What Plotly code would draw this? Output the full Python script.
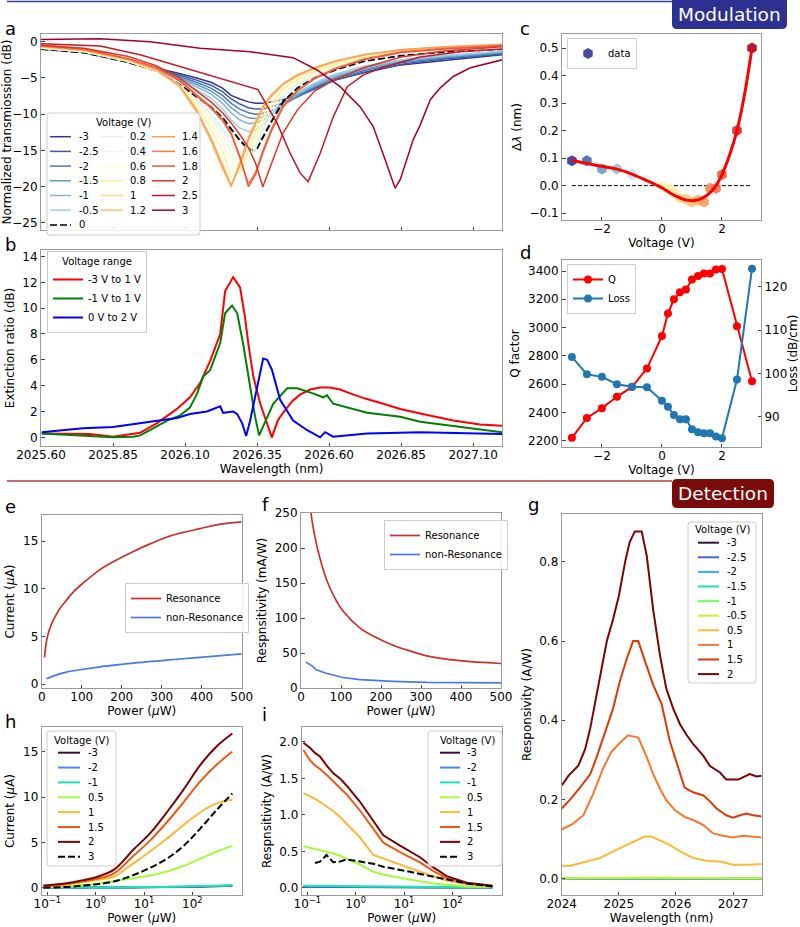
import plotly.graph_objects as go

W, H = 800, 927
FONT = "DejaVu Sans"


def X(p):
    return p / W


def Y(p):
    return 1 - p / H


# ======================= DATA =======================
# ---- (a) normalized transmission (dB) ----
a_voltages = ["-3", "-2.5", "-2", "-1.5", "-1", "-0.5", "0", "0.2", "0.4", "0.6",
              "0.8", "1", "1.2", "1.4", "1.6", "1.8", "2", "2.5", "3"]
a_colors = ["#313695", "#3c5aa8", "#4a7bb7", "#649dc8", "#80b7d6", "#9fcfe4", "black",
            "#dbf0f6", "#eef9dc", "#ffffbf", "#fef0a6", "#fedb8b", "#fdbf71", "#fba05b",
            "#f67c4a", "#ea5a3a", "#da362a", "#c11a27", "#a50026"]
a_wl = [2025.60, 2025.75, 2025.90, 2026.00, 2026.08, 2026.14, 2026.19, 2026.23, 2026.26,
        2026.29, 2026.32, 2026.345, 2026.37, 2026.40, 2026.44, 2026.49, 2026.55, 2026.62,
        2026.72, 2026.85, 2027.00, 2027.20]
a_m3 = [-1.0, -1.5, -2.7, -3.6, -4.4, -5.0, -5.6, -6.4, -7.4, -7.9, -8.3, -8.5, -8.5, -8.3, -8.0, -7.3, -6.4, -5.3, -4.3, -3.2, -2.6, -1.8]
a_m25 = [-1.0, -1.5, -2.8, -3.7, -4.6, -5.3, -6.0, -6.9, -7.9, -8.6, -9.1, -9.3, -9.3, -9.0, -8.5, -7.6, -6.5, -5.3, -4.2, -3.1, -2.4, -1.7]
a_m2 = [-1.0, -1.5, -2.8, -3.8, -4.8, -5.6, -6.4, -7.4, -8.5, -9.3, -9.8, -10.0, -9.9, -9.5, -8.7, -7.6, -6.3, -5.1, -4.0, -2.9, -2.2, -1.6]
a_m15 = [-1.0, -1.5, -2.8, -3.9, -5.0, -5.9, -6.8, -7.9, -9.1, -10.0, -10.5, -10.6, -10.4, -9.8, -8.7, -7.4, -6.1, -4.9, -3.8, -2.7, -2.1, -1.5]
a_m1 = [-1.0, -1.5, -2.8, -3.9, -5.1, -6.2, -7.2, -8.5, -9.8, -10.8, -11.3, -11.2, -10.8, -10.0, -8.6, -7.2, -5.9, -4.7, -3.6, -2.6, -2.0, -1.4]
a_m05 = [-1.0, -1.5, -2.8, -4.0, -5.3, -6.6, -7.8, -9.3, -10.8, -11.9, -12.4, -12.2, -11.4, -10.2, -8.5, -7.0, -5.7, -4.5, -3.4, -2.5, -1.9, -1.3]
a_0 = [-1.0, -1.5, -2.8, -4.0, -5.9, -7.6, -9.0, -10.5, -12.0, -13.6, -14.8, -15.1, -13.2, -11.0, -8.3, -6.4, -5.0, -3.9, -2.7, -1.9, -1.4, -1.0]
a_02 = [-0.9, -1.4, -2.7, -4.0, -6.0, -8.0, -10.0, -12.0, -14.1, -16.0, -16.5, -14.8, -12.2, -9.9, -7.6, -5.9, -4.7, -3.6, -2.5, -1.7, -1.2, -0.9]
a_04 = [-0.9, -1.4, -2.7, -4.0, -6.0, -8.3, -10.6, -12.8, -15.1, -17.4, -16.6, -14.3, -11.5, -9.3, -7.1, -5.6, -4.5, -3.4, -2.3, -1.5, -1.1, -0.8]
a_06 = [-0.8, -1.3, -2.6, -4.0, -6.0, -8.6, -11.3, -13.8, -16.4, -18.3, -16.0, -13.4, -10.8, -8.8, -6.8, -5.4, -4.3, -3.2, -2.2, -1.4, -1.0, -0.7]
a_08 = [-0.8, -1.3, -2.6, -4.0, -6.0, -8.9, -12.0, -15.0, -18.6, -18.0, -15.0, -12.6, -10.2, -8.4, -6.5, -5.2, -4.1, -3.1, -2.1, -1.3, -0.9, -0.6]
a_10 = [-0.7, -1.2, -2.5, -3.9, -6.1, -9.4, -13.2, -16.8, -19.8, -17.2, -13.8, -11.5, -9.3, -7.6, -6.0, -4.8, -3.8, -2.8, -1.9, -1.2, -0.8, -0.5]
a_12 = [-0.7, -1.2, -2.5, -3.9, -6.2, -9.7, -13.7, -17.5, -20.0, -16.6, -13.2, -11.0, -8.9, -7.3, -5.8, -4.6, -3.6, -2.7, -1.8, -1.1, -0.7, -0.4]
a_14 = [-0.6, -1.1, -2.4, -3.8, -6.0, -9.4, -13.4, -17.1, -19.9, -17.0, -13.5, -11.2, -9.0, -7.4, -5.8, -4.6, -3.6, -2.7, -1.8, -1.1, -0.7, -0.4]
a_16 = [-0.6, -1.1, -2.4, -3.6, -5.4, -7.5, -9.2, -10.9, -12.8, -16.0, -19.6, -18.0, -15.0, -12.0, -8.8, -6.7, -5.0, -3.7, -2.4, -1.4, -0.9, -0.5]
a_18 = [-0.5, -1.0, -2.3, -3.5, -5.3, -7.3, -9.0, -10.7, -12.6, -15.8, -20.0, -18.3, -15.3, -12.3, -9.0, -6.8, -5.1, -3.8, -2.5, -1.5, -1.0, -0.6]
a_20 = [-0.5, -0.9, -2.0, -3.3, -5.0, -6.8, -8.3, -9.8, -11.2, -12.8, -14.6, -16.8, -20.0, -16.8, -12.6, -9.4, -6.8, -5.2, -3.6, -2.1, -1.3, -0.7]
a_wl_25 = [2025.600, 2025.805, 2025.944, 2026.107, 2026.222, 2026.353, 2026.419, 2026.465, 2026.499,
           2026.527, 2026.569, 2026.614, 2026.663, 2026.718, 2026.788, 2026.916, 2027.055, 2027.201]
a_25 = [-0.3, -0.6, -1.8, -3.7, -5.0, -6.6, -11.2, -15.4, -18.1, -19.3, -15.4, -10.4, -6.2, -4.6, -3.5, -2.1, -1.4, -1.0]
a_wl_3 = [2025.600, 2025.805, 2025.978, 2026.152, 2026.326, 2026.475, 2026.558, 2026.638, 2026.708, 2026.753,
          2026.801, 2026.829, 2026.847, 2026.892, 2026.916, 2026.951, 2026.985, 2027.031, 2027.090, 2027.201]
a_3 = [0.3, 0.4, 0.0, -0.9, -1.4, -2.2, -3.9, -6.2, -9.0, -11.7, -17.0, -20.2, -19.0, -13.5, -11.5, -8.0, -6.4, -4.8, -3.6, -2.5]
a_wl_ticks = [2025.60, 2025.85, 2026.10, 2026.35, 2026.60, 2026.85, 2027.10]

# ---- (b) extinction ratio (dB) ----
b_names = ["-3 V to 1 V", "-1 V to 1 V", "0 V to 2 V"]
b_colors = ["#ff0000", "#008000", "#0000ff"]
b_wl_r = [2025.602, 2025.690, 2025.770, 2025.850, 2025.902, 2025.944, 2026.003, 2026.036, 2026.072, 2026.117,
          2026.152, 2026.187, 2026.222, 2026.239, 2026.267, 2026.291, 2026.308, 2026.320, 2026.337, 2026.361,
          2026.384, 2026.401, 2026.422, 2026.440, 2026.472, 2026.499, 2026.534, 2026.569, 2026.603, 2026.638,
          2026.673, 2026.725, 2026.788, 2026.847, 2026.916, 2027.031, 2027.124, 2027.201]
b_r = [0.3, 0.3, 0.25, 0.05, 0.2, 0.35, 1.1, 1.6, 2.2, 3.1, 4.2, 5.9, 8.0, 11.3, 12.4, 11.6, 9.3, 7.2, 4.7, 2.6,
       1.1, 0.0, 1.3, 1.9, 2.8, 3.3, 3.7, 3.85, 3.85, 3.7, 3.4, 3.0, 2.6, 2.2, 1.85, 1.3, 1.0, 0.9]
b_wl_g = [2025.603, 2025.746, 2025.850, 2025.919, 2025.944, 2025.978, 2026.038, 2026.083, 2026.117, 2026.142,
          2026.163, 2026.187, 2026.222, 2026.239, 2026.263, 2026.281, 2026.301, 2026.326, 2026.343, 2026.357,
          2026.385, 2026.406, 2026.454, 2026.489, 2026.544, 2026.579, 2026.593, 2026.614, 2026.732, 2026.847,
          2026.916, 2027.031, 2027.201]
b_g = [0.3, 0.15, 0.0, 0.05, 0.15, 0.55, 1.3, 1.7, 2.3, 3.4, 4.7, 5.2, 7.3, 9.6, 10.2, 9.6, 7.3, 3.9, 1.6, 0.15,
       1.6, 2.6, 3.8, 3.8, 3.4, 3.1, 3.25, 2.6, 1.9, 1.6, 1.2, 0.9, 0.4]
b_wl_b = [2025.603, 2025.746, 2025.850, 2025.944, 2026.013, 2026.072, 2026.117, 2026.176, 2026.222, 2026.232,
          2026.267, 2026.281, 2026.298, 2026.312, 2026.326, 2026.350, 2026.371, 2026.385, 2026.402, 2026.430,
          2026.475, 2026.524, 2026.569, 2026.586, 2026.614, 2026.732, 2026.916, 2027.201]
b_b = [0.4, 0.7, 0.8, 1.1, 1.3, 1.5, 1.8, 2.0, 2.4, 1.9, 2.0, 1.8, 1.1, 0.1, 1.3, 3.9, 6.1, 6.0, 5.2, 2.9,
       1.3, 0.55, 0.0, 0.4, 0.05, 0.3, 0.4, 0.25]

# ---- (c) resonance shift ----
c_volt = [-3, -2.5, -2, -1.5, -1, -0.5, 0, 0.2, 0.4, 0.6, 0.8, 1.0, 1.2, 1.4, 1.6, 1.8, 2, 2.5, 3]
c_shift = [0.09, 0.09, 0.06, 0.06, 0.04, 0.02, 0.0, -0.01, -0.027, -0.045, -0.05, -0.06, -0.052, -0.06,
           -0.01, -0.01, 0.04, 0.2, 0.5]
c_colors = ["#313695", "#4069ad", "#649dc8", "#90c3dd", "#bde2ee", "#e5f4ea", "#ffffbf", "#fef4ae", "#fee99e",
            "#fee090", "#fdcd7f", "#fdbf71", "#fdae61", "#fa9b5a", "#f78851", "#f46d43", "#ea5a3a", "#d02927", "#a50026"]
c_fit_v = [-3, -2.5, -2, -1.5, -1, -0.5, 0, 0.25, 0.5, 0.75, 1.0, 1.25, 1.5, 1.75, 2.0, 2.25, 2.5, 2.75, 3.0]
c_fit = [0.092, 0.080, 0.070, 0.060, 0.042, 0.018, -0.008, -0.025, -0.040, -0.051, -0.055, -0.050, -0.035,
         -0.008, 0.040, 0.110, 0.200, 0.330, 0.500]
c_zero_v = [-3, 3]
c_zero = [0, 0]

# ---- (d) Q factor and loss ----
d_volt = [-3, -2.5, -2, -1.5, -1, -0.5, 0, 0.2, 0.4, 0.6, 0.8, 1.0, 1.2, 1.4, 1.6, 1.8, 2, 2.5, 3]
d_Q = [2220, 2360, 2430, 2510, 2580, 2710, 2940, 3100, 3200, 3250, 3270, 3340, 3365, 3383, 3383, 3410, 3415, 3010, 2620]
d_loss = [103.8, 99.8, 99.2, 97.5, 96.9, 96.8, 93.7, 92.3, 90.4, 89.4, 89.4, 87.1, 86.4, 86.2, 86.2, 85.4, 85.0, 98.6, 124.2]

# ---- (e) current vs power ----
e_pow_res = [7, 12.5, 20, 29, 45, 62, 80, 104, 146, 187, 229, 271, 312, 354, 396, 437, 500]
e_res = [2.8, 4.6, 5.8, 6.7, 7.9, 8.8, 9.7, 10.6, 12.0, 13.0, 13.9, 14.7, 15.4, 15.9, 16.3, 16.7, 17.0]
e_pow_nr = [12, 30, 62, 104, 146, 187, 229, 312, 396, 500]
e_nonres = [0.55, 0.85, 1.25, 1.55, 1.8, 2.0, 2.2, 2.5, 2.8, 3.15]

# ---- (f) responsivity vs power ----
f_pow_res = [20, 25, 37.7, 50, 63, 84, 105, 147, 188, 230, 272, 314, 398, 500]
f_res = [300, 250, 208, 180, 156, 129, 110, 86, 72, 61, 53, 46, 39, 35]
f_pow_nr = [12.6, 29, 38, 63, 105, 147, 230, 314, 500]
f_nonres = [37, 31, 26, 21, 15, 12, 9.6, 8.1, 7.2]

# ---- (g) responsivity spectra ----
g_voltages = ["-3", "-2.5", "-2", "-1.5", "-1", "-0.5", "0.5", "1", "1.5", "2"]
g_colors = ["#30123b", "#4662d7", "#36aaf9", "#1ae4b6", "#72fe5e", "#c7ef34", "#fbb938", "#f8772a", "#db3a07", "#7a0403"]
g_wl_neg = [2024.0, 2024.5, 2025.0, 2025.5, 2026.0, 2026.5, 2027.0, 2027.5]
g_m3 = [0.0, 0.0, 0.001, 0.001, 0.0, 0.0, 0.0, 0.0]
g_m25 = [0.0, 0.0, 0.0, 0.001, 0.0, 0.0, 0.0, 0.0]
g_m2 = [0.0, 0.001, 0.001, 0.001, 0.001, 0.0, 0.0, 0.0]
g_m15 = [0.001, 0.001, 0.001, 0.002, 0.001, 0.001, 0.0, 0.0]
g_m1 = [0.001, 0.001, 0.002, 0.002, 0.002, 0.001, 0.001, 0.001]
g_m05 = [0.001, 0.001, 0.002, 0.003, 0.002, 0.001, 0.001, 0.001]
g_wl_05 = [2024.0, 2024.15, 2024.44, 2024.67, 2025.02, 2025.31, 2025.45, 2025.57, 2025.89, 2026.13, 2026.30,
           2026.53, 2026.77, 2027.0, 2027.29, 2027.5]
g_05 = [0.0325, 0.0325, 0.043, 0.052, 0.077, 0.096, 0.106, 0.106, 0.085, 0.064, 0.052, 0.045, 0.043, 0.035, 0.035, 0.037]
g_wl_1 = [2024.0, 2024.2, 2024.38, 2024.55, 2024.73, 2024.87, 2025.02, 2025.16, 2025.34, 2025.49, 2025.60, 2025.72,
          2025.83, 2025.98, 2026.15, 2026.30, 2026.48, 2026.65, 2026.82, 2027.0, 2027.17, 2027.35, 2027.5]
g_1 = [0.124, 0.139, 0.16, 0.214, 0.28, 0.32, 0.343, 0.362, 0.356, 0.306, 0.264, 0.227, 0.198, 0.173, 0.156,
       0.148, 0.135, 0.114, 0.108, 0.104, 0.108, 0.106, 0.104]
g_wl_15 = [2024.0, 2024.15, 2024.32, 2024.50, 2024.61, 2024.79, 2024.90, 2025.02, 2025.14, 2025.25, 2025.34, 2025.46,
           2025.60, 2025.75, 2025.89, 2026.04, 2026.15, 2026.30, 2026.48, 2026.56, 2026.71, 2026.88, 2027.0, 2027.12,
           2027.23, 2027.35, 2027.5]
g_15 = [0.177, 0.2, 0.23, 0.264, 0.306, 0.38, 0.43, 0.5, 0.556, 0.6, 0.6, 0.548, 0.49, 0.44, 0.348, 0.28, 0.23,
        0.218, 0.21, 0.2, 0.177, 0.16, 0.154, 0.16, 0.164, 0.16, 0.157]
g_wl_2 = [2024.0, 2024.12, 2024.29, 2024.41, 2024.50, 2024.61, 2024.79, 2024.90, 2025.0, 2025.11, 2025.19, 2025.28,
          2025.40, 2025.49, 2025.60, 2025.72, 2025.83, 2025.95, 2026.07, 2026.18, 2026.30, 2026.48, 2026.59, 2026.77,
          2026.88, 2027.09, 2027.29, 2027.41, 2027.5]
g_2 = [0.235, 0.26, 0.285, 0.327, 0.38, 0.464, 0.6, 0.656, 0.714, 0.8, 0.85, 0.877, 0.877, 0.814, 0.68, 0.564,
       0.48, 0.43, 0.39, 0.364, 0.34, 0.31, 0.285, 0.268, 0.25, 0.25, 0.264, 0.258, 0.26]

# ---- (h) current vs power (log) ----
hi_voltages = ["-3", "-2", "-1", "0.5", "1", "1.5", "2", "3"]
hi_colors = ["#30123b", "#4686fb", "#1ae4b6", "#a4fc3c", "#fbb938", "#ef5911", "#7a0403", "black"]
h_pow = [0.083, 0.25, 0.55, 1.05, 2.4, 6.0, 13.3, 29.4, 65, 144, 320, 670]
h_m3 = [0.01, 0.02, 0.02, 0.03, 0.04, 0.05, 0.06, 0.08, 0.1, 0.13, 0.17, 0.22]
h_m2 = [0.01, 0.02, 0.03, 0.04, 0.05, 0.06, 0.08, 0.1, 0.12, 0.15, 0.19, 0.25]
h_m1 = [0.02, 0.03, 0.04, 0.05, 0.06, 0.08, 0.1, 0.12, 0.15, 0.19, 0.24, 0.3]
h_05 = [0.05, 0.15, 0.3, 0.45, 0.75, 1.05, 1.35, 1.8, 2.4, 3.2, 4.0, 4.6]
h_1 = [0.12, 0.35, 0.6, 0.85, 1.25, 2.7, 4.0, 5.4, 6.9, 8.3, 9.3, 9.7]
h_15 = [0.18, 0.42, 0.72, 1.0, 1.6, 3.5, 5.2, 7.2, 9.4, 11.7, 13.6, 15.0]
h_2 = [0.25, 0.5, 0.85, 1.2, 2.0, 4.2, 6.0, 8.3, 10.8, 13.5, 15.6, 17.0]
h_3 = [0.02, 0.1, 0.25, 0.4, 0.7, 1.4, 2.2, 3.2, 4.6, 6.5, 8.6, 10.4]

# ---- (i) responsivity vs power (log) ----
i_pow = [0.083, 0.1135, 0.144, 0.183, 0.25, 0.345, 0.474, 0.652, 1.23, 2.32, 3.73, 8.26, 13.3, 21.4, 40.5, 76.4, 198, 673]
i_m3 = [0.015, 0.015, 0.015, 0.015, 0.015, 0.012, 0.012, 0.012, 0.01, 0.01, 0.01, 0.008, 0.008, 0.007, 0.006, 0.005, 0.004, 0.003]
i_m2 = [0.02, 0.02, 0.02, 0.02, 0.02, 0.018, 0.018, 0.017, 0.015, 0.014, 0.013, 0.011, 0.01, 0.009, 0.008, 0.006, 0.005, 0.004]
i_m1 = [0.03, 0.03, 0.03, 0.029, 0.028, 0.027, 0.026, 0.025, 0.022, 0.02, 0.019, 0.016, 0.014, 0.012, 0.01, 0.008, 0.006, 0.004]
i_05 = [0.57, 0.55, 0.53, 0.52, 0.50, 0.47, 0.44, 0.40, 0.32, 0.22, 0.18, 0.14, 0.12, 0.09, 0.06, 0.04, 0.02, 0.01]
i_1 = [1.30, 1.26, 1.22, 1.18, 1.12, 1.05, 0.97, 0.88, 0.69, 0.45, 0.40, 0.32, 0.27, 0.22, 0.16, 0.10, 0.05, 0.02]
i_15 = [1.89, 1.75, 1.68, 1.63, 1.55, 1.46, 1.38, 1.28, 1.06, 0.80, 0.62, 0.49, 0.42, 0.35, 0.23, 0.13, 0.06, 0.03]
i_2 = [1.99, 1.92, 1.85, 1.80, 1.68, 1.57, 1.50, 1.40, 1.18, 0.92, 0.72, 0.58, 0.50, 0.42, 0.28, 0.16, 0.07, 0.03]
i_3 = [None, None, 0.34, 0.36, 0.45, 0.35, 0.36, 0.39, 0.36, 0.33, 0.29, 0.25, 0.22, 0.19, 0.15, 0.11, 0.06, 0.02]
log_ticks = [0.1, 1, 10, 100]
log_ticktext = ["10<sup>−1</sup>", "10<sup>0</sup>", "10<sup>1</sup>", "10<sup>2</sup>"]

# ======================= FIGURE =======================
fig = go.Figure()

# (a)
a_series = [(a_wl, a_m3), (a_wl, a_m25), (a_wl, a_m2), (a_wl, a_m15), (a_wl, a_m1), (a_wl, a_m05),
            (a_wl, a_0), (a_wl, a_02), (a_wl, a_04), (a_wl, a_06), (a_wl, a_08), (a_wl, a_10),
            (a_wl, a_12), (a_wl, a_14), (a_wl, a_16), (a_wl, a_18), (a_wl, a_20),
            (a_wl_25, a_25), (a_wl_3, a_3)]
for lbl, (xs, ys), col in zip(a_voltages, a_series, a_colors):
    is0 = lbl == "0"
    fig.add_trace(go.Scatter(x=xs, y=ys, mode="lines", name=lbl, showlegend=False,
                             line=dict(color=col, width=2 if is0 else 1.5,
                                       dash="7px,3px" if is0 else "solid"),
                             xaxis="x", yaxis="y"))

# (b)
for nm, col, xs, ys in zip(b_names, b_colors, [b_wl_r, b_wl_g, b_wl_b], [b_r, b_g, b_b]):
    fig.add_trace(go.Scatter(x=xs, y=ys, mode="lines", name=nm, legend="legend",
                             line=dict(color=col, width=2), xaxis="x2", yaxis="y2"))

# (c)
fig.add_trace(go.Scatter(x=c_zero_v, y=c_zero, mode="lines", showlegend=False,
                         line=dict(color="black", width=1, dash="4px,2px"), xaxis="x3", yaxis="y3"))
fig.add_trace(go.Scatter(x=c_volt, y=c_shift, mode="markers", name="data", legend="legend2",
                         marker=dict(symbol="hexagon", size=11, color=c_colors, opacity=0.9,
                                     line=dict(width=0)),
                         xaxis="x3", yaxis="y3"))
fig.add_trace(go.Scatter(x=c_fit_v, y=c_fit, mode="lines", showlegend=False, line_shape="spline",
                         line=dict(color="#ff0000", width=3), xaxis="x3", yaxis="y3"))

# (d)
fig.add_trace(go.Scatter(x=d_volt, y=d_Q, mode="lines+markers", name="Q", legend="legend3",
                         line=dict(color="#ff0000", width=2), marker=dict(size=8, color="#ff0000"),
                         xaxis="x4", yaxis="y4"))
fig.add_trace(go.Scatter(x=d_volt, y=d_loss, mode="lines+markers", name="Loss", legend="legend3",
                         line=dict(color="#1f77b4", width=2), marker=dict(size=8, color="#1f77b4"),
                         xaxis="x4", yaxis="y5"))

# (e)
fig.add_trace(go.Scatter(x=e_pow_res, y=e_res, mode="lines", name="Resonance", legend="legend4",
                         line=dict(color="#c9302c", width=1.7), line_shape="spline", xaxis="x5", yaxis="y6"))
fig.add_trace(go.Scatter(x=e_pow_nr, y=e_nonres, mode="lines", name="non-Resonance", legend="legend4",
                         line=dict(color="#4a78e6", width=1.7), line_shape="spline", xaxis="x5", yaxis="y6"))

# (f)
fig.add_trace(go.Scatter(x=f_pow_res, y=f_res, mode="lines", name="Resonance", legend="legend5",
                         line=dict(color="#c9302c", width=1.7), line_shape="spline", xaxis="x6", yaxis="y7"))
fig.add_trace(go.Scatter(x=f_pow_nr, y=f_nonres, mode="lines", name="non-Resonance", legend="legend5",
                         line=dict(color="#4a78e6", width=1.7), xaxis="x6", yaxis="y7"))

# (g)
g_series = [(g_wl_neg, g_m3), (g_wl_neg, g_m25), (g_wl_neg, g_m2), (g_wl_neg, g_m15), (g_wl_neg, g_m1),
            (g_wl_neg, g_m05), (g_wl_05, g_05), (g_wl_1, g_1), (g_wl_15, g_15), (g_wl_2, g_2)]
for lbl, (xs, ys), col in zip(g_voltages, g_series, g_colors):
    fig.add_trace(go.Scatter(x=xs, y=ys, mode="lines", name=lbl, showlegend=False,
                             line=dict(color=col, width=2), xaxis="x7", yaxis="y8"))

# (h)
h_series = [h_m3, h_m2, h_m1, h_05, h_1, h_15, h_2, h_3]
for lbl, ys, col in zip(hi_voltages, h_series, hi_colors):
    fig.add_trace(go.Scatter(x=h_pow, y=ys, mode="lines", name=lbl, showlegend=False, line_shape="spline",
                             line=dict(color=col, width=2, dash="7px,3px" if lbl == "3" else "solid"),
                             xaxis="x8", yaxis="y9"))

# (i)
i_series = [i_m3, i_m2, i_m1, i_05, i_1, i_15, i_2, i_3]
for lbl, ys, col in zip(hi_voltages, i_series, hi_colors):
    fig.add_trace(go.Scatter(x=i_pow, y=ys, mode="lines", name=lbl, showlegend=False,
                             line=dict(color=col, width=2, dash="7px,3px" if lbl == "3" else "solid"),
                             xaxis="x9", yaxis="y10"))

# ======================= LAYOUT =======================
TF = dict(family=FONT, size=12, color="black")
AX = dict(showline=True, linecolor="#9a9a9a", linewidth=1, mirror=True,
          ticks="inside", ticklen=3.5, tickwidth=1, tickcolor="#444",
          tickfont=TF, showgrid=False, zeroline=False, automargin=False)


def xax(p0, p1, anchor, rng, title=None, standoff=3, **kw):
    d = dict(AX)
    d.update(domain=[X(p0), X(p1)], anchor=anchor, range=rng, ticklabelstandoff=-2)
    if title:
        d["title"] = dict(text=title, font=TF, standoff=standoff)
    d.update(kw)
    return d


def yax(p0, p1, anchor, rng, title=None, **kw):
    d = dict(AX)
    d.update(domain=[Y(p1), Y(p0)], anchor=anchor, range=rng)
    if title:
        d["title"] = dict(text=title, font=TF, standoff=5)
    d.update(kw)
    return d


BOT = 895  # bottom edge of the lowest row of axes (px)
pow_ticks = [0, 100, 200, 300, 400, 500]
layout_axes = dict(
    xaxis=xax(41, 502, "y", [2025.6, 2027.2], tickvals=a_wl_ticks, showticklabels=False),
    yaxis=yax(34, 230, "x", [-25.97, 1.06], "Normalized transmiossion (dB)", tickvals=[0, -5, -10, -15, -20, -25]),
    xaxis2=xax(41, 502, "y2", [2025.6, 2027.2], "Wavelength (nm)", tickvals=a_wl_ticks, tickformat=".2f"),
    yaxis2=yax(250, 446, "x2", [-0.67, 14.5], "Extinction ratio (dB)", tickvals=[0, 2, 4, 6, 8, 10, 12, 14]),
    xaxis3=xax(562, 761, "y3", [-3.33, 3.30], "Voltage (V)", tickvals=[-2, 0, 2]),
    yaxis3=yax(34, 220, "x3", [-0.125, 0.551], "Δ<i>λ</i> (nm)", tickvals=[-0.1, 0, 0.1, 0.2, 0.3, 0.4, 0.5],
               tickformat=".1f"),
    xaxis4=xax(562, 761, "y4", [-3.33, 3.30], "Voltage (V)", tickvals=[-2, 0, 2]),
    yaxis4=yax(260, 447, "x4", [2155, 3478], "Q factor", tickvals=[2200, 2400, 2600, 2800, 3000, 3200, 3400],
               mirror=False),
    yaxis5=dict(AX, overlaying="y4", side="right", anchor="x4", range=[83.0, 126.2], mirror=False,
                tickvals=[90, 100, 110, 120], title=dict(text="Loss (dB/cm)", font=TF, standoff=2)),
    xaxis5=xax(41.7, 241.7, "y6", [0, 500], "Power (<i>μ</i>W)", tickvals=pow_ticks),
    yaxis6=yax(515, 688, "x5", [-0.42, 17.73], "Current (<i>μ</i>A)", tickvals=[0, 5, 10, 15]),
    xaxis6=xax(301, 501, "y7", [0, 500], "Power (<i>μ</i>W)", tickvals=pow_ticks),
    yaxis7=yax(513, 688, "x6", [0, 250], "Respnsitivity (mA/W)", tickvals=[0, 50, 100, 150, 200, 250]),
    xaxis7=xax(561.7, 761.7, "y8", [2024, 2027.5], "Wavelength (nm)", standoff=2, tickvals=[2024, 2025, 2026, 2027]),
    yaxis8=yax(514, BOT, "x7", [-0.0415, 0.921], "Responsivity (A/W)", tickvals=[0, 0.2, 0.4, 0.6, 0.8],
               tickformat=".1f"),
    xaxis8=xax(41.7, 241.7, "y9", [-1.116, 3.02], "Power (<i>μ</i>W)", standoff=2, type="log", tickvals=log_ticks,
               ticktext=log_ticktext),
    yaxis9=yax(727, BOT, "x8", [-0.79, 17.72], "Current (<i>μ</i>A)", tickvals=[0, 5, 10, 15]),
    xaxis9=xax(301.7, 501.7, "y10", [-1.116, 3.02], "Power (<i>μ</i>W)", standoff=2, type="log", tickvals=log_ticks,
               ticktext=log_ticktext),
    yaxis10=yax(727, BOT, "x9", [-0.098, 2.205], "Respnsitivity (A/W)", tickvals=[0, 0.5, 1.0, 1.5, 2.0],
                tickformat=".1f"),
)

LF = dict(family=FONT, size=10, color="black")
LEG = dict(bgcolor="rgba(255,255,255,0.85)", bordercolor="#cccccc", borderwidth=1, font=LF,
           xanchor="left", yanchor="top", tracegroupgap=0, itemwidth=30)
legends = dict(
    legend=dict(LEG, x=X(47), y=Y(251), title=dict(text="Voltage range", font=LF, side="top center")),
    legend2=dict(LEG, x=X(567), y=Y(38)),
    legend3=dict(LEG, x=X(567), y=Y(264)),
    legend4=dict(LEG, x=X(125), y=Y(583)),
    legend5=dict(LEG, x=X(384), y=Y(520)),
)

shapes = []
annotations = []


def rr_path(x0, y0, x1, y1, r):
    return (f"M {X(x0 + r)},{Y(y0)} L {X(x1 - r)},{Y(y0)} Q {X(x1)},{Y(y0)} {X(x1)},{Y(y0 + r)} "
            f"L {X(x1)},{Y(y1 - r)} Q {X(x1)},{Y(y1)} {X(x1 - r)},{Y(y1)} "
            f"L {X(x0 + r)},{Y(y1)} Q {X(x0)},{Y(y1)} {X(x0)},{Y(y1 - r)} "
            f"L {X(x0)},{Y(y0 + r)} Q {X(x0)},{Y(y0)} {X(x0 + r)},{Y(y0)} Z")


def text(t, x, y, size=10, color="black", xanchor="center"):
    annotations.append(dict(text=t, x=X(x), y=Y(y), xref="paper", yref="paper", showarrow=False,
                            xanchor=xanchor, yanchor="middle", font=dict(family=FONT, size=size, color=color)))


def manual_legend(box, title_xy, cols, lw):
    x0, y0, x1, y1 = box
    shapes.append(dict(type="path", path=rr_path(x0, y0, x1, y1, 3), xref="paper", yref="paper",
                       fillcolor="rgba(255,255,255,0.85)", line=dict(color="#cccccc", width=1), layer="above"))
    text("Voltage (V)", title_xy[0], title_xy[1])
    for sx0, sx1, tx, ystart, pitch, labels, colors in cols:
        for k, (lb, c) in enumerate(zip(labels, colors)):
            yy = ystart + k * pitch
            shapes.append(dict(type="line", x0=X(sx0), x1=X(sx1), y0=Y(yy), y1=Y(yy), xref="paper",
                               yref="paper", layer="above",
                               line=dict(color=c, width=lw, dash="7px,3px" if c == "black" else "solid")))
            text(lb, tx, yy, xanchor="left")


# legend (a): three columns
manual_legend((47, 113, 200, 235), (123, 123), [
    (50, 71, 77, 136.7, 14.7, a_voltages[0:7], a_colors[0:7]),
    (101, 123, 128, 136.7, 14.7, a_voltages[7:13], a_colors[7:13]),
    (152, 175, 180, 136.7, 14.7, a_voltages[13:19], a_colors[13:19]),
], 1.5)
# legend (g)
manual_legend((688, 522, 756, 683), (722, 529), [
    (698, 719, 725, 542.7, 14.6, g_voltages, g_colors)], 2)
# legend (h)
manual_legend((47, 731, 116, 866), (81, 740), [
    (58, 80, 86, 752.7, 14.86, hi_voltages, hi_colors)], 2)
# legend (i)
manual_legend((428, 731, 502, 866), (467, 740), [
    (440, 460, 465, 752.7, 14.86, hi_voltages, hi_colors)], 2)

# section headers
shapes.append(dict(type="line", x0=X(7), x1=X(672), y0=Y(1.5), y1=Y(1.5), xref="paper", yref="paper",
                   line=dict(color="#3b3f99", width=1.5)))
shapes.append(dict(type="path", path=rr_path(672, -5, 787, 29, 5), xref="paper", yref="paper",
                   fillcolor="#2e3192", line=dict(width=0)))
text("Modulation", 729.5, 14.5, size=18.5, color="white")
shapes.append(dict(type="line", x0=X(7), x1=X(672), y0=Y(481), y1=Y(481), xref="paper", yref="paper",
                   line=dict(color="#b03a3a", width=1.5)))
shapes.append(dict(type="path", path=rr_path(672, 479, 774, 508, 5), xref="paper", yref="paper",
                   fillcolor="#7b0a0a", line=dict(width=0)))
text("Detection", 723, 493.5, size=18.5, color="white")

# panel letters
for letter, (px, py) in zip("abcdefghi", [(10, 28), (10, 244), (525, 28), (525, 252), (10, 506),
                                          (265, 504), (533, 504), (10, 721), (264, 714)]):
    text(letter, px, py, size=18)

fig.update_layout(
    width=W, height=H, margin=dict(l=0, r=0, t=0, b=0),
    paper_bgcolor="white", plot_bgcolor="white",
    font=dict(family=FONT, size=12, color="black"),
    shapes=shapes, annotations=annotations,
    **layout_axes, **legends,
)

fig.write_html("out.html", config={"displayModeBar": False},
               post_script="document.body.style.margin='0';document.body.style.overflow='hidden';")
